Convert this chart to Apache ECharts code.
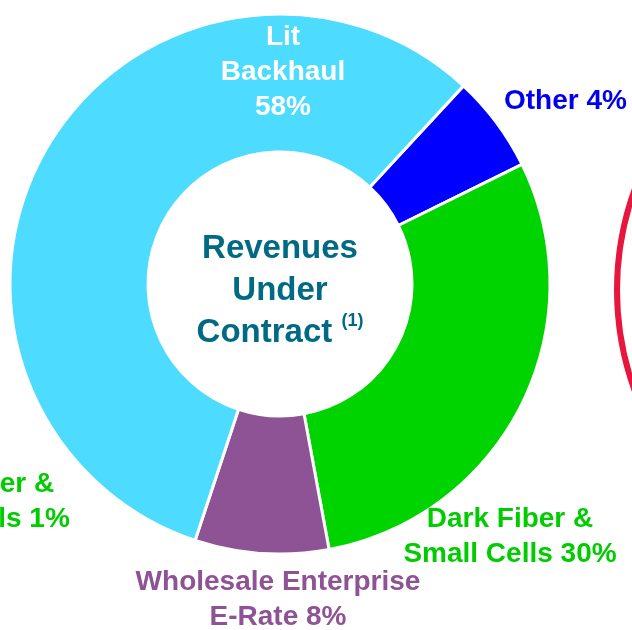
<!DOCTYPE html>
<html>
<head>
<meta charset="utf-8">
<script src="https://cdn.jsdelivr.net/npm/echarts@6/dist/echarts.min.js"></script>
<style>
  html, body { margin: 0; padding: 0; background: #fff; }
  #chart { width: 632px; height: 630px; }
</style>
</head>
<body>
<div id="chart"></div>
<script>
// slices clockwise, starting at the Lit Backhaul / Other boundary
const segments = ['Other', 'Dark Fiber & Small Cells', 'Wholesale Enterprise E-Rate', 'Lit Backhaul'];
const shares = [5.8, 29.4, 8.0, 56.8];      // slice sizes as drawn
const labelPct = [4, 30, 8, 58];            // percentages printed on the labels
const labelText = ['Other ', 'Dark Fiber &\nSmall Cells ', 'Wholesale Enterprise\nE-Rate ', 'Lit\nBackhaul\n'];

const colors = ['#0000ff', '#00d400', '#8e5394', '#4ddbff'];
const labelColors = ['#0000ee', '#00cc00', '#8e5394', '#ffffff'];
// label anchor [x, y, align]
const labelPos = [[504, 101, 'left'], [510, 537, 'center'], [278, 600, 'center'], [283, 72, 'center']];

const chart = echarts.init(document.getElementById('chart'));

chart.setOption({
  animation: false,
  backgroundColor: '#fff',
  series: [{
    type: 'pie',
    center: [280, 284],
    radius: [132, 270],
    startAngle: 47.2,
    clockwise: true,
    avoidLabelOverlap: false,
    silent: true,
    itemStyle: { borderColor: '#fff', borderWidth: 3 },
    labelLine: { show: false },
    label: {
      show: true,
      fontFamily: 'Liberation Sans, Arial, sans-serif',
      fontWeight: 'bold',
      fontSize: 28,
      lineHeight: 35,
      formatter: p => labelText[p.dataIndex] + labelPct[p.dataIndex] + '%'
    },
    labelLayout: p => ({
      x: labelPos[p.dataIndex][0],
      y: labelPos[p.dataIndex][1],
      align: labelPos[p.dataIndex][2],
      verticalAlign: 'middle'
    }),
    data: segments.map((name, i) => ({
      name: name,
      value: shares[i],
      itemStyle: { color: colors[i] },
      label: { color: labelColors[i] }
    }))
  }],
  graphic: [
    {
      type: 'text',
      x: 280, y: 291,
      style: {
        text: 'Revenues\nUnder\nContract {sup|(1)}',
        align: 'center',
        verticalAlign: 'middle',
        fill: '#006a84',
        font: 'bold 33px "Liberation Sans", Arial, sans-serif',
        lineHeight: 42,
        rich: {
          sup: {
            fontSize: 18,
            fontWeight: 'bold',
            fontFamily: 'Liberation Sans, Arial, sans-serif',
            fill: '#006a84',
            verticalAlign: 'top',
            padding: [0, 0, 8, 0]
          }
        }
      }
    },
    {
      // label of the neighbouring chart, cut off at the left edge
      type: 'text',
      x: -29, y: 502,
      style: {
        text: 'Dark Fiber &\nSmall Cells 1%',
        align: 'center',
        verticalAlign: 'middle',
        fill: '#00cc00',
        font: 'bold 28px "Liberation Sans", Arial, sans-serif',
        lineHeight: 35
      }
    },
    {
      // ring of the neighbouring chart, cut off at the right edge
      type: 'circle',
      shape: { cx: 912, cy: 290, r: 295 },
      style: { fill: 'none', stroke: '#e8163c', lineWidth: 6 }
    }
  ]
});
</script>
</body>
</html>
